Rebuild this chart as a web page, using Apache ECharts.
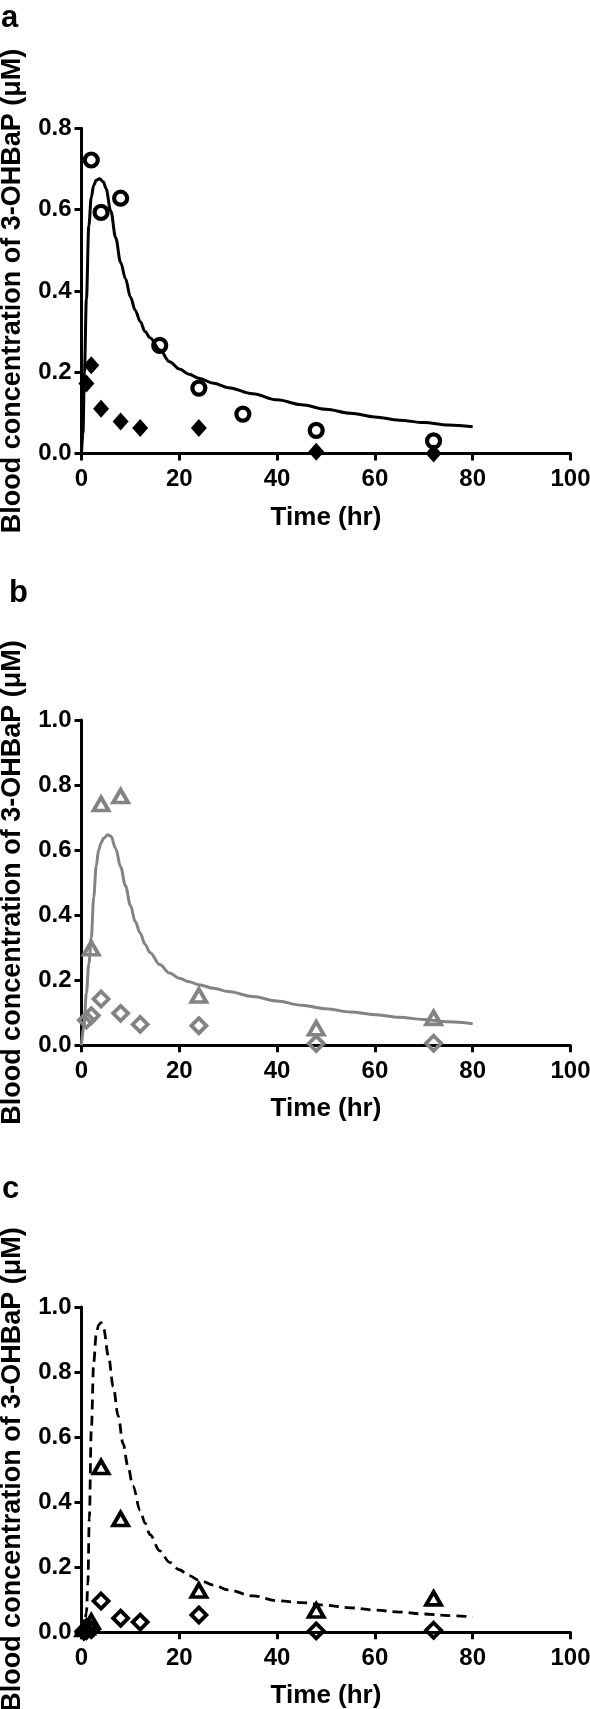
<!DOCTYPE html>
<html>
<head>
<meta charset="utf-8">
<script src="https://cdn.jsdelivr.net/npm/echarts@6/dist/echarts.min.js"></script>
<style>
html,body{margin:0;padding:0;background:#fff;}
#chart{width:590px;height:1709px;}
</style>
</head>
<body>
<div id="chart"></div>
<script>
// ---------- Panel a ----------
const aCircleX = [2, 4, 8, 16, 24, 33, 48, 72];
const aCircleY = [0.722, 0.593, 0.628, 0.266, 0.161, 0.097, 0.057, 0.031];
const aDiamondX = [1, 2, 4, 8, 12, 24, 48, 72];
const aDiamondY = [0.172, 0.217, 0.110, 0.079, 0.063, 0.063, 0.004, 0.0];
const aModelX = [0, 0.3, 0.6, 1, 1.5, 2, 2.5, 3, 3.7, 4.5, 5, 6, 7, 8, 9, 10, 11, 12, 13, 14, 16, 18, 20, 22, 24, 27, 30, 35, 40, 45, 50, 55, 60, 65, 70, 75, 80];
const aModelY = [0, 0.05, 0.2, 0.38, 0.56, 0.63, 0.66, 0.672, 0.676, 0.668, 0.652, 0.596, 0.53, 0.47, 0.43, 0.385, 0.352, 0.325, 0.3, 0.285, 0.255, 0.226, 0.208, 0.195, 0.185, 0.173, 0.162, 0.147, 0.132, 0.12, 0.109, 0.099, 0.09, 0.082, 0.076, 0.07, 0.066];

// ---------- Panel b ----------
const bTriX = [2, 4, 8, 24, 48, 72];
const bTriY = [0.298, 0.742, 0.766, 0.153, 0.052, 0.084];
const bDiaX = [1, 2, 4, 8, 12, 24, 48, 72];
const bDiaY = [0.077, 0.091, 0.142, 0.098, 0.064, 0.060, 0.005, 0.006];
const bModelX = [0, 0.5, 1, 1.5, 2, 2.5, 3, 3.5, 4, 4.5, 5.4, 6, 7, 8, 9, 10, 11, 12, 13, 14, 16, 18, 20, 22, 24, 27, 30, 35, 40, 45, 50, 55, 60, 65, 70, 75, 80];
const bModelY = [0, 0.06, 0.16, 0.25, 0.33, 0.455, 0.55, 0.6, 0.622, 0.636, 0.647, 0.643, 0.605, 0.548, 0.49, 0.43, 0.38, 0.345, 0.31, 0.285, 0.248, 0.222, 0.206, 0.195, 0.186, 0.175, 0.165, 0.15, 0.136, 0.123, 0.112, 0.102, 0.094, 0.086, 0.079, 0.072, 0.066];

// ---------- Panel c ----------
const cTriX = [0.5, 1, 2, 4, 8, 24, 48, 72];
const cTriY = [0.01, 0.015, 0.033, 0.508, 0.348, 0.128, 0.067, 0.104];
const cDiaX = [0.5, 1, 2, 4, 8, 12, 24, 48, 72];
const cDiaY = [0.003, 0.005, 0.008, 0.096, 0.043, 0.031, 0.053, 0.004, 0.006];
const cModelX = [0, 0.5, 1, 1.3, 1.6, 2, 2.5, 3, 3.5, 4, 4.5, 5.5, 6.5, 7.5, 8.5, 9.5, 10.5, 12, 13, 14, 16, 18, 20, 22, 24, 27, 30, 35, 40, 45, 50, 55, 60, 65, 70, 75, 80];
const cModelY = [0, 0.01, 0.06, 0.15, 0.35, 0.62, 0.83, 0.915, 0.945, 0.952, 0.935, 0.85, 0.755, 0.665, 0.58, 0.51, 0.45, 0.375, 0.335, 0.3, 0.25, 0.215, 0.192, 0.174, 0.16, 0.145, 0.13, 0.112, 0.097, 0.091, 0.083, 0.075, 0.068, 0.062, 0.056, 0.051, 0.047];

// ---------- Axes ----------
const xMin = 0, xMax = 100, xStep = 20;
const yMaxList = [0.8, 1.0, 1.0];
const yStep = 0.2;
const panelLetters = ['a', 'b', 'c'];
const xTitle = 'Time (hr)';
const yTitle = 'Blood concentration of 3-OHBaP (\u03bcM)';

const zip = (xs, ys) => xs.map((x, i) => [x, ys[i]]);

const FONT = '"Liberation Sans", Arial, Helvetica, sans-serif';
const GRAY = '#838383';
const gridTops = [128.3, 720, 1307];
const gridH = 325.2;

const grids = gridTops.map(t => ({ left: 81.5, top: t, width: 489, height: gridH,
  containLabel: false, outerBoundsMode: 'none' }));

const xAxes = gridTops.map((t, i) => ({
  type: 'value', gridIndex: i, min: xMin, max: xMax, interval: xStep,
  name: xTitle, nameLocation: 'middle', nameGap: 51,
  nameTextStyle: { fontFamily: FONT, fontWeight: 'bold', fontSize: 26, color: '#000' },
  axisLine: { show: true, onZero: false, lineStyle: { color: '#000', width: 3 } },
  axisTick: { show: true, length: 7, lineStyle: { color: '#000', width: 3 } },
  axisLabel: { fontFamily: FONT, fontWeight: 'bold', fontSize: 24, color: '#000', margin: 14, hideOverlap: false },
  splitLine: { show: false }
}));

const yAxes = gridTops.map((t, i) => ({
  type: 'value', gridIndex: i, min: 0, max: yMaxList[i], interval: yStep,
  name: yTitle, nameLocation: 'middle', nameGap: 55,
  nameTextStyle: { fontFamily: FONT, fontWeight: 'bold', fontSize: 27, color: '#000' },
  axisLine: { show: true, lineStyle: { color: '#000', width: 3 } },
  axisTick: { show: true, length: 7, lineStyle: { color: '#000', width: 3 } },
  axisLabel: { fontFamily: FONT, fontWeight: 'bold', fontSize: 24, color: '#000', margin: 10,
    formatter: v => v.toFixed(1) },
  splitLine: { show: false }
}));

function lineSeries(i, xs, ys, color, width, type) {
  return {
    type: 'line', xAxisIndex: i, yAxisIndex: i, data: zip(xs, ys),
    showSymbol: false, smooth: 0.35, smoothMonotone: 'x',
    lineStyle: { color: color, width: width, type: type || 'solid' },
    z: 3, silent: true
  };
}
function scatterSeries(i, xs, ys, symbol, size, fill, stroke, bw) {
  return {
    type: 'scatter', xAxisIndex: i, yAxisIndex: i, data: zip(xs, ys),
    symbol: symbol, symbolSize: size,
    itemStyle: { color: fill, borderColor: stroke, borderWidth: bw, opacity: 1 },
    z: 4, silent: true
  };
}

const series = [
  lineSeries(0, aModelX, aModelY, '#000', 3),
  scatterSeries(0, aCircleX, aCircleY, 'circle', 13, 'rgba(0,0,0,0)', '#000', 4.2),
  scatterSeries(0, aDiamondX, aDiamondY, 'diamond', [16, 18], '#000', '#000', 0),

  lineSeries(1, bModelX, bModelY, GRAY, 3),
  scatterSeries(1, bTriX, bTriY, 'triangle', [15, 13], 'rgba(0,0,0,0)', GRAY, 3.8),
  scatterSeries(1, bDiaX, bDiaY, 'diamond', 15, 'rgba(0,0,0,0)', GRAY, 3.8),

  lineSeries(2, cModelX, cModelY, '#000', 2.8, [10, 6]),
  scatterSeries(2, cTriX, cTriY, 'triangle', [15, 13], 'rgba(0,0,0,0)', '#000', 3.8),
  scatterSeries(2, cDiaX, cDiaY, 'diamond', 15, 'rgba(0,0,0,0)', '#000', 3.8)
];

const letterPos = [[1, 19], [9, 594], [2, 1190]];
const graphic = panelLetters.map((l, i) => ({
  type: 'text', left: letterPos[i][0], top: letterPos[i][1] - 16,
  style: { text: l, fontFamily: FONT, fontWeight: 'bold', fontSize: 31, fill: '#000' }
}));

const chart = echarts.init(document.getElementById('chart'), null, { renderer: 'canvas' });
chart.setOption({
  animation: false,
  backgroundColor: '#fff',
  grid: grids,
  xAxis: xAxes,
  yAxis: yAxes,
  series: series,
  graphic: graphic
});
</script>
</body>
</html>
